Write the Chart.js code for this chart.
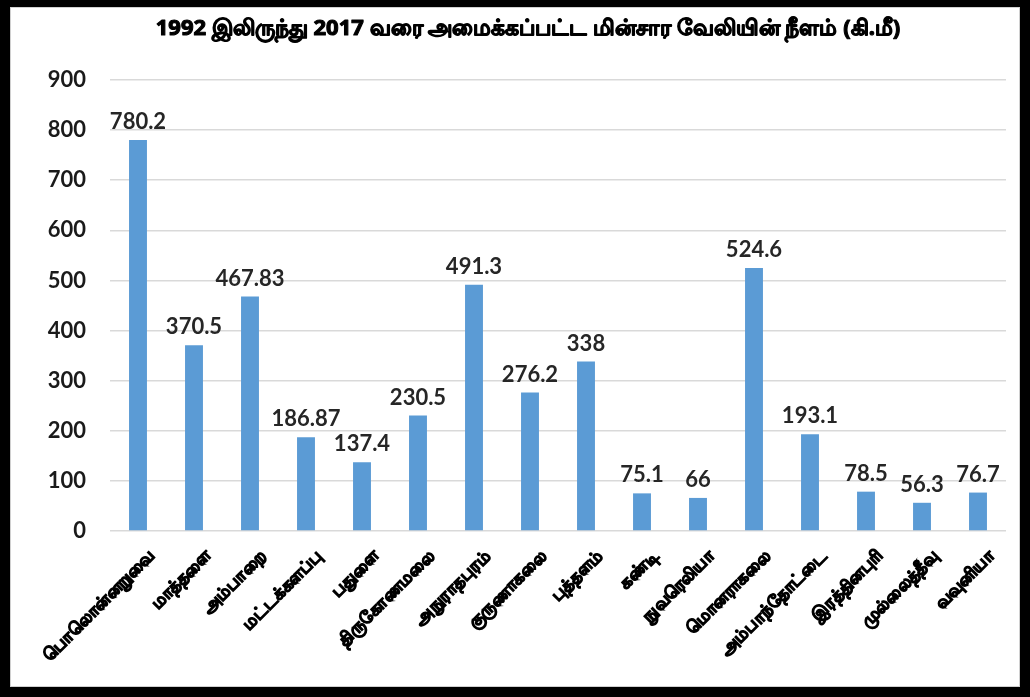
<!DOCTYPE html>
<html><head><meta charset="utf-8">
<script src="https://cdn.jsdelivr.net/npm/chart.js@4"></script>
<style>
html,body{margin:0;padding:0;background:#000;width:1030px;height:697px;overflow:hidden}
#wrap{position:absolute;left:10px;top:7px;width:1010px;height:680px;background:#fff;box-sizing:border-box;border:1px solid #d0d0d0}
canvas{display:block}
</style></head><body>
<div id="wrap"><canvas id="c" width="1008" height="678"></canvas></div>
<script>
const categories = ["பொலொன்னறுவை","மாத்தளை","அம்பாறை","மட்டக்களப்பு","பதுளை","திருகோணமலை","அநுராதபுரம்","குருணாகலை","புத்தளம்","கண்டி","நுவரெலியா","மொனராகலை","அம்பாந்தோட்டை","இரத்தினபுரி","முல்லைத்தீவு","வவுனியா"];
const lengths = [780.2,370.5,467.83,186.87,137.4,230.5,491.3,276.2,338,75.1,66,524.6,193.1,78.5,56.3,76.7];
const valueLabels = ["780.2","370.5","467.83","186.87","137.4","230.5","491.3","276.2","338","75.1","66","524.6","193.1","78.5","56.3","76.7"];
const yTicks = [0,100,200,300,400,500,600,700,800,900];
const title = "1992 இலிருந்து 2017 வரை அமைக்கப்பட்ட மின்சார வேலியின் நீளம் (கி.மீ)";

const labelPlugin = {
  id:'valLabels',
  afterDatasetsDraw(chart){
    const ctx = chart.ctx;
    const meta = chart.getDatasetMeta(0);
    ctx.save();
    ctx.font = 'bold 22px Lato, "Open Sans", sans-serif';
    ctx.fillStyle = '#262626';
    ctx.textAlign = 'center';
    ctx.textBaseline = 'bottom';
    meta.data.forEach((bar,i)=>{
      ctx.fillText(valueLabels[i], bar.x, bar.y - 7);
    });
    ctx.restore();
  }
};

const titlePlugin = {
  id:'boldTitle',
  afterDraw(chart){
    const ctx = chart.ctx;
    ctx.save();
    ctx.font = 'bold 22px "Noto Sans", sans-serif';
    ctx.fillStyle = '#000';
    ctx.strokeStyle = '#000';
    ctx.lineWidth = 1.1;
    ctx.lineJoin = 'round';
    ctx.textAlign = 'center';
    ctx.textBaseline = 'middle';
    const x = (chart.chartArea.left + chart.chartArea.right)/2 + 464 - 558 + 64;
    ctx.fillText(title, x, 21);
    ctx.strokeText(title, x, 21);
    ctx.restore();
  }
};

new Chart(document.getElementById('c'),{
  type:'bar',
  data:{labels:categories,datasets:[{data:lengths,backgroundColor:'#5B9BD5',borderWidth:0,barPercentage:0.4,categoryPercentage:0.8}]},
  options:{
    responsive:false,animation:false,
    layout:{padding:{left:0,right:13,top:72,bottom:0}},
    plugins:{
      legend:{display:false},tooltip:{enabled:false},title:{display:false}
    },
    scales:{
      x:{
        grid:{display:false},
        border:{display:false},
        ticks:{color:'#000',textStrokeColor:'#000',textStrokeWidth:1.2,maxRotation:45,minRotation:45,autoSkip:false,labelOffset:14,font:{size:17,weight:'bold',family:'"Noto Sans", sans-serif'},padding:7},
        afterFit(s){s.height=155;}
      },
      y:{
        min:0,max:900,
        afterBuildTicks(s){s.ticks=yTicks.map(v=>({value:v}));},
        grid:{color:'#d9d9d9',lineWidth:1.5,drawTicks:false},
        border:{display:false},
        ticks:{color:'#1a1a1a',padding:24,font:{size:22,weight:'bold',family:'Lato, "Open Sans", sans-serif'}},
        afterFit(s){s.width=99;}
      }
    }
  },
  plugins:[labelPlugin,titlePlugin]
});
</script></body></html>
